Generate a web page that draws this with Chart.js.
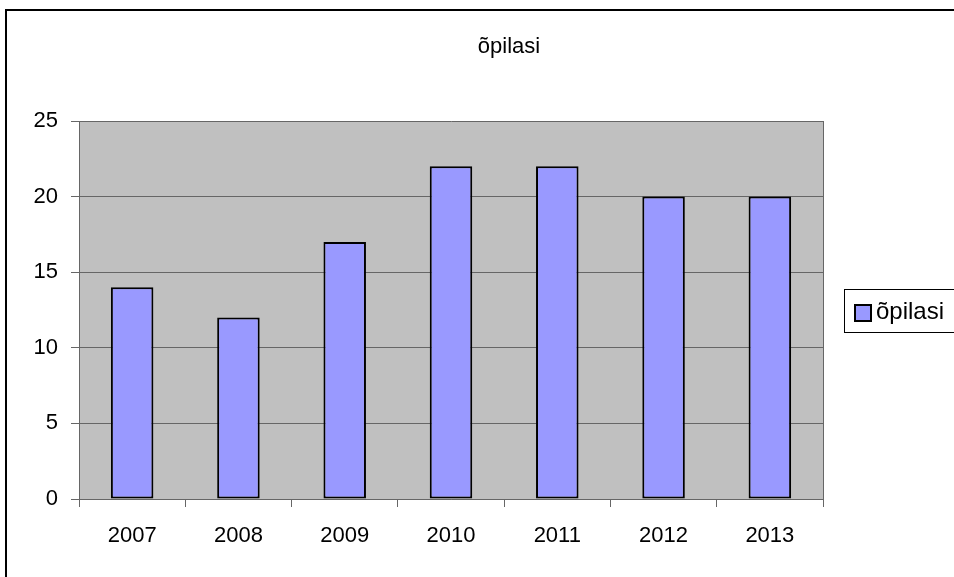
<!DOCTYPE html>
<html lang="et">
<head>
    <meta charset="UTF-8">
    <title>õpilasi</title>
    <style>
        html, body { margin: 0; padding: 0; background: #fff; overflow: hidden; }
        .container { position: relative; width: 954px; height: 577px; }
        .frame {
            position: absolute; left: 5px; top: 9px; width: 1000px; height: 600px;
            border-left: 2px solid #000; border-top: 2px solid #000;
        }
        canvas { position: absolute; left: 0; top: 0; }
    </style>
</head>
<body>
    <div class="container">
        <div class="frame"></div>
        <canvas id="chart" width="954" height="577"></canvas>
    </div>

    <script src="https://cdn.jsdelivr.net/npm/chart.js"></script>
    <script>
const title = 'õpilasi';
const years = ['2007', '2008', '2009', '2010', '2011', '2012', '2013'];
const pupils = [14, 12, 17, 22, 22, 20, 20];
const yTicks = [0, 5, 10, 15, 20, 25];

const font = { family: "'Liberation Sans', Arial, sans-serif", size: 22 };

// grey plot area, right border, title and boxed legend (Excel look)
const excelLook = {
    id: 'excelLook',
    beforeDraw(chart) {
        const { ctx, chartArea: a } = chart;
        ctx.save();
        ctx.fillStyle = '#c0c0c0';
        ctx.fillRect(a.left, a.top, a.right - a.left, a.bottom - a.top);
        ctx.restore();
    },
    afterDraw(chart) {
        const { ctx, chartArea: a } = chart;
        ctx.save();
        ctx.strokeStyle = '#666';
        ctx.lineWidth = 1;
        ctx.beginPath();
        ctx.moveTo(Math.round(a.right) + 0.5, a.top);
        ctx.lineTo(Math.round(a.right) + 0.5, a.bottom);
        ctx.stroke();

        ctx.font = font.size + 'px ' + font.family;
        ctx.fillStyle = '#000';
        ctx.textAlign = 'center';
        ctx.textBaseline = 'middle';
        ctx.fillText(title, 509, 47);

        // legend
        const ds = chart.data.datasets[0];
        ctx.strokeStyle = '#000';
        ctx.strokeRect(844.5, 289.5, 140, 43);
        ctx.fillStyle = ds.backgroundColor;
        ctx.fillRect(855, 305, 16, 16);
        ctx.lineWidth = 2;
        ctx.strokeRect(855, 305, 16, 16);
        ctx.fillStyle = '#000';
        ctx.textAlign = 'left';
        ctx.font = '24px ' + font.family;
        ctx.fillText(ds.label, 876, 312);
        ctx.restore();
    }
};

new Chart(document.getElementById('chart'), {
    type: 'bar',
    data: {
        labels: years,
        datasets: [{
            label: title,
            data: pupils,
            backgroundColor: '#9999ff',
            borderColor: '#000',
            borderWidth: 2,
            borderSkipped: false,
            categoryPercentage: 1,
            barPercentage: 0.4
        }]
    },
    options: {
        responsive: false,
        animation: false,
        events: [],
        layout: { padding: { top: 121, left: 0, right: 131, bottom: 0 } },
        plugins: {
            legend: { display: false },
            tooltip: { enabled: false }
        },
        scales: {
            x: {
                afterFit(scale) { scale.height = 78; },
                grid: { drawOnChartArea: false, color: '#666', tickLength: 8 },
                border: { color: '#666', width: 1 },
                ticks: { color: '#000', font: font, padding: 16, maxRotation: 0 }
            },
            y: {
                min: 0,
                max: 25,
                afterFit(scale) { scale.width = 79; },
                afterBuildTicks(scale) { scale.ticks = yTicks.map(v => ({ value: v })); },
                grid: { color: '#666', tickLength: 8 },
                border: { color: '#666', width: 1 },
                ticks: { color: '#000', font: font, padding: 13 }
            }
        }
    },
    plugins: [excelLook]
});
    </script>
</body>
</html>
